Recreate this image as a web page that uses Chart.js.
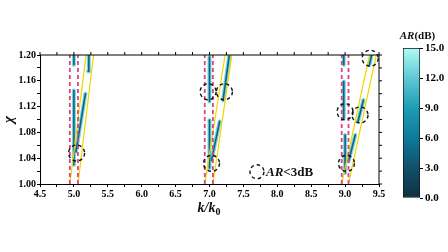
<!DOCTYPE html>
<html lang="en">
<head>
<meta charset="UTF-8">
<title>AR map</title>
<style>
  body { margin: 0; background: #fff; }
  #wrap { position: relative; width: 448px; height: 252px; }
  #main { position: absolute; left: 0; top: 0; }
  #bar { position: absolute; left: 380px; top: 0; }
</style>
</head>
<body>
<div id="wrap">
  <canvas id="main" width="448" height="252"></canvas>
  <canvas id="bar" width="68" height="252"></canvas>
</div>
<script src="https://cdn.jsdelivr.net/npm/chart.js"></script>
<script>
// dashed (magenta) vertical lines, k/k0
const pinkK = [4.94, 5.06, 6.93, 7.05, 8.95, 9.05];
// yellow lines: k at chi=1.00 and at chi=1.20
const yellowK0 = [4.94, 5.06, 6.93, 7.05, 8.95, 9.05];
const yellowK1 = [5.18, 5.29, 7.23, 7.33, 9.36, 9.46];
// AR streaks (start / end points)
const streakK0   = [5.00, 5.03, 5.00, 5.21, 7.00, 7.20, 7.00, 7.03, 8.98, 8.98, 9.19, 9.00, 9.05, 9.36];
const streakChi0 = [1.03, 1.05, 1.185, 1.175, 1.128, 1.13, 1.025, 1.037, 1.185, 1.102, 1.097, 1.017, 1.035, 1.185];
const streakK1   = [5.00, 5.17, 5.00, 5.22, 7.00, 7.29, 7.00, 7.15, 8.98, 8.98, 9.27, 9.00, 9.15, 9.39];
const streakChi1 = [1.145, 1.14, 1.20, 1.20, 1.197, 1.198, 1.099, 1.097, 1.20, 1.159, 1.13, 1.076, 1.076, 1.20];
// AR < 3dB markers
const circleK   = [5.04, 6.98, 7.22, 7.03, 9.37, 9.00, 9.22, 9.02];
const circleChi = [1.048, 1.143, 1.143, 1.032, 1.195, 1.112, 1.107, 1.032];
// colour bar
const arTicks = [0, 3, 6, 9, 12, 15];
const arStops = ['#11303f', '#10506a', '#0e7a99', '#1e9cb4', '#60c8d4', '#b0fbf6'];

const serif = '"Liberation Serif", "Times New Roman", serif';
const datasets = [];

streakK0.forEach((k, i) => {
  const pts = [{x: k, y: streakChi0[i]}, {x: streakK1[i], y: streakChi1[i]}];
  datasets.push({ data: pts, showLine: true, borderColor: 'rgba(95,205,215,0.85)', borderWidth: 4,
    borderCapStyle: 'round', pointRadius: 0, order: 4 });
  datasets.push({ data: pts, showLine: true, borderColor: '#0e6384', borderWidth: 1.6,
    borderCapStyle: 'round', pointRadius: 0, order: 3 });
});
yellowK0.forEach((k, i) => {
  datasets.push({ data: [{x: k, y: 1.0}, {x: yellowK1[i], y: 1.2}], showLine: true,
    borderColor: '#f3d500', borderWidth: 1.2, pointRadius: 0, order: 2 });
});
pinkK.forEach(k => {
  datasets.push({ data: [{x: k, y: 1.0}, {x: k, y: 1.2}], showLine: true,
    borderColor: '#d9457c', borderWidth: 1.8, borderDash: [4, 3], pointRadius: 0, order: 1 });
});

function dashedCircle(ctx, x, y, r) {
  ctx.save();
  ctx.strokeStyle = '#111';
  ctx.lineWidth = 1.4;
  ctx.setLineDash([3.5, 3]);
  ctx.beginPath();
  ctx.arc(x, y, r, 0, Math.PI * 2);
  ctx.stroke();
  ctx.restore();
}

const extras = {
  id: 'extras',
  afterDraw(chart) {
    const {ctx, chartArea: a, scales: {x, y}} = chart;
    ctx.save();
    // top and right frame with ticks
    ctx.strokeStyle = '#000';
    ctx.lineWidth = 1;
    ctx.beginPath();
    ctx.moveTo(a.left, a.top); ctx.lineTo(a.right, a.top); ctx.lineTo(a.right, a.bottom);
    x.ticks.forEach(t => { const px = x.getPixelForValue(t.value); ctx.moveTo(px, a.top - 3); ctx.lineTo(px, a.top); });
    y.ticks.forEach(t => { const py = y.getPixelForValue(t.value); ctx.moveTo(a.right, py); ctx.lineTo(a.right + 3, py); });
    ctx.stroke();
    // AR < 3dB circles
    circleK.forEach((k, i) => dashedCircle(ctx, x.getPixelForValue(k), y.getPixelForValue(circleChi[i]), 8));
    // legend
    const lx = x.getPixelForValue(7.70), ly = y.getPixelForValue(1.019);
    dashedCircle(ctx, lx, ly, 7);
    ctx.fillStyle = '#111';
    ctx.textBaseline = 'middle';
    ctx.textAlign = 'left';
    ctx.font = 'italic bold 13px ' + serif;
    ctx.fillText('AR', lx + 9, ly + 1);
    let w = ctx.measureText('AR').width;
    ctx.font = 'bold 13px ' + serif;
    ctx.fillText('<3dB', lx + 9 + w, ly + 1);
    // x title k/k0
    ctx.font = 'italic bold 14px ' + serif;
    const cx = (a.left + a.right) / 2;
    const t1 = 'k/k';
    w = ctx.measureText(t1).width;
    ctx.fillText(t1, cx - w / 2 - 3, 208);
    ctx.font = 'bold 10px ' + serif;
    ctx.fillText('0', cx + w / 2 - 3, 212);
    ctx.restore();
  }
};

new Chart(document.getElementById('main'), {
  type: 'scatter',
  data: { datasets },
  options: {
    responsive: false,
    animation: false,
    events: [],
    layout: { padding: { left: 0, top: 55, right: 69, bottom: 46 } },
    plugins: { legend: { display: false }, tooltip: { enabled: false } },
    scales: {
      x: {
        type: 'linear', min: 4.5, max: 9.5,
        afterFit: s => { s.height = 22; },
        ticks: { stepSize: 0.25, autoSkip: false, maxRotation: 0, color: '#000', padding: 1,
          font: { family: serif, size: 10, weight: 'bold' },
          callback: v => (Math.abs(v * 2 - Math.round(v * 2)) < 1e-6 ? v.toFixed(1) : '') },
        grid: { drawOnChartArea: false, tickLength: 3, color: '#000' },
        border: { color: '#000', width: 1 }
      },
      y: {
        type: 'linear', min: 1.0, max: 1.2,
        afterFit: s => { s.width = 40; },
        ticks: { stepSize: 0.02, autoSkip: false, color: '#000', padding: 1,
          font: { family: serif, size: 10, weight: 'bold' },
          callback: v => (Math.round(v * 100) % 4 === 0 ? v.toFixed(2) : '') },
        grid: { drawOnChartArea: false, tickLength: 3, color: '#000' },
        border: { color: '#000', width: 1 },
        title: { display: true, text: 'χ', color: '#111', padding: 0,
          font: { family: serif, size: 15, style: 'italic', weight: 'bold' } }
      }
    }
  },
  plugins: [extras]
});

// colour bar
const barTitle = {
  id: 'barTitle',
  afterDraw(chart) {
    const {ctx, chartArea: a} = chart;
    ctx.save();
    ctx.fillStyle = '#111';
    ctx.textBaseline = 'alphabetic';
    ctx.textAlign = 'left';
    ctx.font = 'italic bold 11px ' + serif;
    const w1 = ctx.measureText('AR').width;
    ctx.font = 'bold 11px ' + serif;
    const w2 = ctx.measureText('(dB)').width;
    const x0 = a.left + (a.right - a.left) / 2 - (w1 + w2) / 2 + 6;
    ctx.font = 'italic bold 11px ' + serif;
    ctx.fillText('AR', x0, 39);
    ctx.font = 'bold 11px ' + serif;
    ctx.fillText('(dB)', x0 + w1, 39);
    ctx.restore();
  }
};

new Chart(document.getElementById('bar'), {
  type: 'bar',
  data: {
    labels: ['AR'],
    datasets: [{
      data: [[arTicks[0], arTicks[arTicks.length - 1]]],
      backgroundColor: (c) => {
        const a = c.chart.chartArea;
        if (!a) return arStops[2];
        const g = c.chart.ctx.createLinearGradient(0, a.bottom, 0, a.top);
        arStops.forEach((col, i) => g.addColorStop(i / (arStops.length - 1), col));
        return g;
      },
      borderColor: '#111', borderWidth: 1, borderSkipped: false,
      categoryPercentage: 1, barPercentage: 1
    }]
  },
  options: {
    responsive: false,
    animation: false,
    events: [],
    layout: { padding: { left: 23, top: 48, right: 0, bottom: 54 } },
    plugins: { legend: { display: false }, tooltip: { enabled: false } },
    scales: {
      x: { display: false },
      y: {
        position: 'right', min: 0, max: 15,
        afterFit: s => { s.width = 28; },
        ticks: { stepSize: 3, color: '#000', padding: 2,
          font: { family: serif, size: 11, weight: 'bold' },
          callback: v => v.toFixed(1) },
        grid: { drawOnChartArea: false, tickLength: 3, color: '#000' },
        border: { display: false }
      }
    }
  },
  plugins: [barTitle]
});
</script>
</body>
</html>
